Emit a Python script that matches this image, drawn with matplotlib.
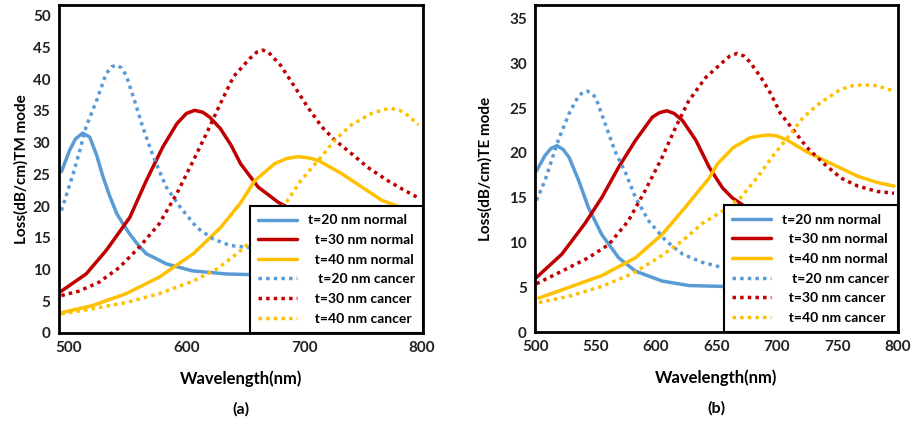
import matplotlib
matplotlib.use("Agg")
import matplotlib.pyplot as plt

# --- (a) TM mode ---
tm_b20_n_x = [494, 501, 506, 512, 518, 524, 529, 535, 541, 547, 552, 559, 566, 583, 605, 634, 654, 680, 720, 760, 800]
tm_b20_n_y = [25.4, 28.8, 30.6, 31.5, 30.9, 28.0, 24.8, 21.6, 18.8, 17.0, 15.6, 13.9, 12.5, 10.9, 9.8, 9.3, 9.2, 9.0, 8.8, 8.6, 8.5]
tm_b20_c_x = [494, 504, 510, 515, 524, 532, 537, 541, 545, 549, 556, 563, 572, 583, 595, 609, 623, 637, 651, 680, 720, 760, 800]
tm_b20_c_y = [19.3, 25.1, 29.0, 32.5, 36.7, 40.9, 42.0, 42.2, 41.8, 40.6, 36.7, 32.5, 27.8, 23.0, 19.8, 16.6, 14.8, 13.8, 13.5, 13.0, 12.5, 12.2, 12.0]
tm_r30_n_x = [494, 515, 532, 552, 566, 580, 592, 600, 607, 614, 620, 629, 638, 646, 661, 678, 700, 730, 760, 800]
tm_r30_n_y = [6.6, 9.3, 13.0, 18.2, 24.0, 29.3, 33.0, 34.6, 35.1, 34.8, 34.0, 32.2, 29.6, 26.7, 23.0, 20.6, 18.5, 15.8, 13.8, 12.0]
tm_r30_c_x = [494, 509, 526, 543, 560, 577, 592, 606, 617, 629, 640, 654, 660, 665, 670, 680, 692, 703, 715, 726, 740, 754, 771, 785, 798]
tm_r30_c_y = [5.9, 6.6, 8.0, 10.3, 13.5, 17.2, 22.0, 27.2, 31.4, 36.2, 40.4, 43.3, 44.3, 44.6, 44.2, 42.2, 38.8, 35.6, 32.5, 30.4, 28.3, 26.1, 24.0, 22.5, 21.2]
tm_y40_n_x = [494, 520, 549, 577, 606, 629, 646, 658, 675, 685, 695, 704, 712, 732, 749, 766, 785, 800]
tm_y40_n_y = [3.2, 4.3, 6.2, 8.8, 12.5, 16.6, 20.5, 24.0, 26.7, 27.5, 27.8, 27.6, 27.2, 25.1, 23.0, 20.9, 19.6, 18.8]
tm_y40_c_x = [494, 520, 549, 577, 606, 626, 643, 657, 670, 686, 697, 712, 726, 740, 757, 767, 774, 781, 788, 797]
tm_y40_c_y = [3.0, 3.8, 4.8, 6.2, 8.2, 10.1, 12.5, 14.8, 17.5, 20.9, 24.0, 27.2, 30.4, 32.8, 34.6, 35.2, 35.4, 35.1, 34.3, 32.8]

# --- (b) TE mode ---
te_b20_n_x = [501, 508, 513, 518, 523, 528, 536, 544, 555, 569, 583, 605, 627, 655, 700, 750, 800]
te_b20_n_y = [18.0, 19.7, 20.5, 20.8, 20.4, 19.5, 16.9, 13.9, 10.9, 8.3, 6.8, 5.7, 5.2, 5.1, 4.9, 4.7, 4.6]
te_b20_c_x = [501, 508, 519, 528, 536, 540, 543, 546, 550, 558, 566, 575, 583, 594, 608, 622, 638, 655, 700, 750, 800]
te_b20_c_y = [14.7, 16.9, 21.4, 24.4, 26.4, 26.8, 26.9, 26.7, 26.2, 23.2, 20.2, 17.7, 15.0, 12.4, 10.2, 8.7, 7.8, 7.2, 6.3, 5.7, 5.3]
te_r30_n_x = [501, 522, 541, 555, 569, 583, 597, 603, 609, 615, 622, 633, 644, 655, 663, 690, 730, 770, 800]
te_r30_n_y = [6.1, 8.7, 12.1, 15.0, 18.4, 21.4, 24.0, 24.5, 24.7, 24.4, 23.6, 21.4, 18.4, 16.1, 15.0, 12.5, 10.0, 8.5, 7.8]
te_r30_c_x = [501, 522, 544, 561, 577, 591, 605, 616, 627, 641, 655, 661, 667, 673, 678, 687, 695, 703, 714, 725, 739, 753, 767, 783, 797]
te_r30_c_y = [5.4, 6.8, 8.3, 9.8, 12.4, 15.8, 19.5, 22.8, 25.8, 28.4, 30.1, 30.8, 31.1, 30.8, 30.1, 28.4, 26.6, 24.4, 22.5, 20.6, 18.8, 17.2, 16.3, 15.7, 15.5]
te_y40_n_x = [503, 528, 555, 583, 605, 624, 644, 651, 664, 678, 686, 693, 700, 709, 725, 745, 767, 783, 797]
te_y40_n_y = [3.8, 5.0, 6.3, 8.3, 10.9, 13.9, 17.2, 18.8, 20.6, 21.7, 21.9, 22.0, 21.9, 21.4, 20.1, 18.8, 17.4, 16.7, 16.3]
te_y40_c_x = [503, 528, 555, 580, 602, 622, 638, 655, 670, 684, 698, 709, 722, 736, 753, 763, 772, 783, 797]
te_y40_c_y = [3.3, 4.0, 5.1, 6.5, 8.3, 10.2, 12.1, 13.5, 15.0, 17.3, 19.9, 21.7, 24.0, 25.6, 27.1, 27.5, 27.6, 27.5, 26.9]

labels = ["t=20 nm normal", "  t=30 nm normal", "  t=40 nm normal",
          "   t=20 nm cancer", "  t=30 nm cancer", "  t=40 nm cancer"]

BLUE = "#5B9BD5"
RED = "#C00000"
GOLD = "#FFC000"

plt.rcParams.update({
    "font.family": ["Lato", "DejaVu Sans"],
    "font.weight": "bold",
    "font.size": 10,
})

fig = plt.figure(figsize=(9.15, 4.22), dpi=100)
ax_a = fig.add_axes([0.0645, 0.211, 0.398, 0.777])
ax_b = fig.add_axes([0.585, 0.213, 0.396, 0.775])

dot = (0, (1.0, 1.2))


def draw(ax, series):
    for (x, y, c, ls) in series:
        ax.plot(x, y, color=c, linestyle=ls, linewidth=2.5,
                dash_capstyle="butt", solid_capstyle="round",
                solid_joinstyle="round")


draw(ax_a, [
    (tm_b20_n_x, tm_b20_n_y, BLUE, "-"),
    (tm_r30_n_x, tm_r30_n_y, RED, "-"),
    (tm_y40_n_x, tm_y40_n_y, GOLD, "-"),
    (tm_b20_c_x, tm_b20_c_y, BLUE, dot),
    (tm_r30_c_x, tm_r30_c_y, RED, dot),
    (tm_y40_c_x, tm_y40_c_y, GOLD, dot),
])
draw(ax_b, [
    (te_b20_n_x, te_b20_n_y, BLUE, "-"),
    (te_r30_n_x, te_r30_n_y, RED, "-"),
    (te_y40_n_x, te_y40_n_y, GOLD, "-"),
    (te_b20_c_x, te_b20_c_y, BLUE, dot),
    (te_r30_c_x, te_r30_c_y, RED, dot),
    (te_y40_c_x, te_y40_c_y, GOLD, dot),
])

ax_a.set_xlim(492, 801)
ax_a.set_ylim(0, 51.7)
ax_a.set_xticks([500, 600, 700, 800])
ax_a.set_yticks(range(0, 51, 5))
ax_a.set_ylabel("Loss(dB/cm)TM mode", fontsize=11, fontweight="bold", labelpad=3)

ax_b.set_xlim(500, 800)
ax_b.set_ylim(0, 36.5)
ax_b.set_xticks(range(500, 801, 50))
ax_b.set_yticks(range(0, 36, 5))
ax_b.set_ylabel("Loss(dB/cm)TE mode", fontsize=11, fontweight="bold", labelpad=12)

for ax, tag in [(ax_a, "(a)"), (ax_b, "(b)")]:
    ax.set_xlabel("Wavelength(nm)", fontsize=12, fontweight="bold", labelpad=11)
    ax.tick_params(length=0, labelsize=11, pad=6, colors="#222222")
    for s in ax.spines.values():
        s.set_linewidth(2.0)
        s.set_color("black")
    leg = ax.legend(labels, loc="lower right", bbox_to_anchor=(1.0, 0.0),
                    borderaxespad=0, fontsize=10, handlelength=2.8,
                    labelspacing=0.55, fancybox=False, framealpha=1,
                    edgecolor="black", borderpad=0.6, handletextpad=0.8)
    leg.get_frame().set_linewidth(1.5)
    for t in leg.get_texts():
        t.set_fontweight("bold")
    ax.text(0.5, -0.21, tag, transform=ax.transAxes, ha="center", va="top",
            fontsize=11.5, fontweight="bold")

fig.savefig("out.png", dpi=100)
